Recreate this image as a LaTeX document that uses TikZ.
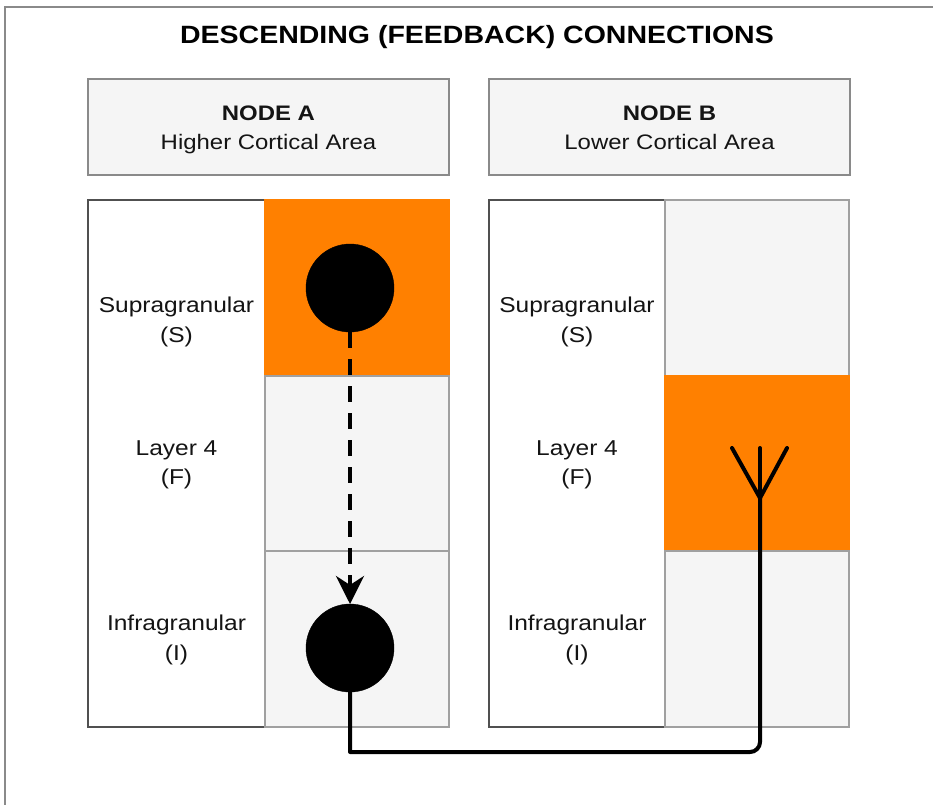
\documentclass[tikz,border=0pt]{standalone}
\usepackage{fontspec}
\setmainfont{Liberation Sans}[FakeStretch=1.14]
\usetikzlibrary{arrows.meta}
\definecolor{cellorange}{HTML}{FF8000}
\definecolor{cellgrey}{HTML}{F5F5F5}
\definecolor{edgegrey}{HTML}{A0A0A0}
\definecolor{edgedark}{HTML}{505050}
\definecolor{framegrey}{HTML}{8A8A8A}
\definecolor{inktext}{HTML}{141414}
\tikzset{
  box/.style={draw, line width=1.4pt, inner sep=0pt, outer sep=0pt, anchor=north west},
  header/.style={box, fill=cellgrey, draw=framegrey, minimum width=361pt, minimum height=96pt},
  headertext/.style={align=center, text=inktext, inner sep=0pt, font=\fontsize{21}{29}\selectfont},
  labelcol/.style={box, fill=white, draw=edgedark, minimum width=177pt, minimum height=527pt},
  greycell/.style={box, fill=cellgrey, draw=edgegrey, minimum width=184pt, minimum height=176pt},
  orangecell/.style={box, fill=cellorange, draw=cellorange, minimum width=184pt, minimum height=176pt},
  layertext/.style={align=center, text=inktext, inner sep=0pt, font=\fontsize{21.5}{29.5}\selectfont},
  neuron/.style={circle, fill=black, draw=black, minimum size=88pt, inner sep=0pt, outer sep=0pt},
  feedback/.style={line width=4pt, dash pattern=on 16pt off 11pt,
    -{Stealth[length=28pt, width=28pt, inset=9pt]}},
  axon/.style={line width=4pt, line cap=round, line join=round},
}
\begin{document}
\begin{tikzpicture}[x=1pt, y=-1pt]
  \useasboundingbox (0,0) rectangle (933,804);
  \clip (0,0) rectangle (933,804);
  % outer frame (runs past the right and bottom edges)
  \draw[framegrey, line width=1.5pt] (5,7) rectangle (960,830);

  % title
  \node[font=\bfseries\fontsize{25}{30}\selectfont, text=black] (title) at (477,37)
    {DESCENDING (FEEDBACK) CONNECTIONS};

  % area headers
  \node[header] (hdrA) at (88,79)  {};
  \node[header] (hdrB) at (489,79) {};
  \node[headertext] (hdrAtext) at ([yshift=-2.5pt]hdrA.center)
    {\strut\textbf{NODE A}\\\strut Higher Cortical Area};
  \node[headertext] (hdrBtext) at ([yshift=-2.5pt]hdrB.center)
    {\strut\textbf{NODE B}\\\strut Lower Cortical Area};

  % node A layers
  \node[labelcol]   (colA) at (88,200) {};
  \node[orangecell] (A1)   at (265,200) {};
  \node[greycell]   (A2)   at (265,376) {};
  \node[greycell]   (A3)   at (265,551) {};

  % node B layers
  \node[labelcol]   (colB) at (489,200) {};
  \node[greycell]   (B1)   at (665,200) {};
  \node[orangecell] (B2)   at (665,376) {};
  \node[greycell]   (B3)   at (665,551) {};

  % layer names
  \node[layertext] (sA) at (176.5,322) {Supragranular\\(S)};
  \node[layertext] (fA) at (176.5,465) {Layer 4\\(F)};
  \node[layertext] (iA) at (176.5,640) {Infragranular\\(I)};
  \node[layertext] (sB) at (577,322)   {Supragranular\\(S)};
  \node[layertext] (fB) at (577,465)   {Layer 4\\(F)};
  \node[layertext] (iB) at (577,640)   {Infragranular\\(I)};

  % neurons in node A
  \node[neuron] (upper) at (350,288) {};
  \node[neuron] (lower) at (350,648) {};

  % descending projection
  \draw[feedback] (upper.south) -- (lower.north);

  % axon to node B and terminal in layer 4
  \coordinate (bendL) at (350,752);
  \coordinate (bendR) at (750,752);
  \coordinate (fj) at (760,498);
  \coordinate (ft) at (760,448);
  \coordinate (fl) at (732,448);
  \coordinate (fr) at (787,448);
  \draw[axon] (lower.south) -- (bendL) -- (bendR)
    arc[start angle=270, end angle=360, radius=10pt] -- (fj);
  \draw[axon] (fl) -- (fj) -- (fr);
  \draw[axon] (fj) -- (ft);
\end{tikzpicture}
\end{document}
